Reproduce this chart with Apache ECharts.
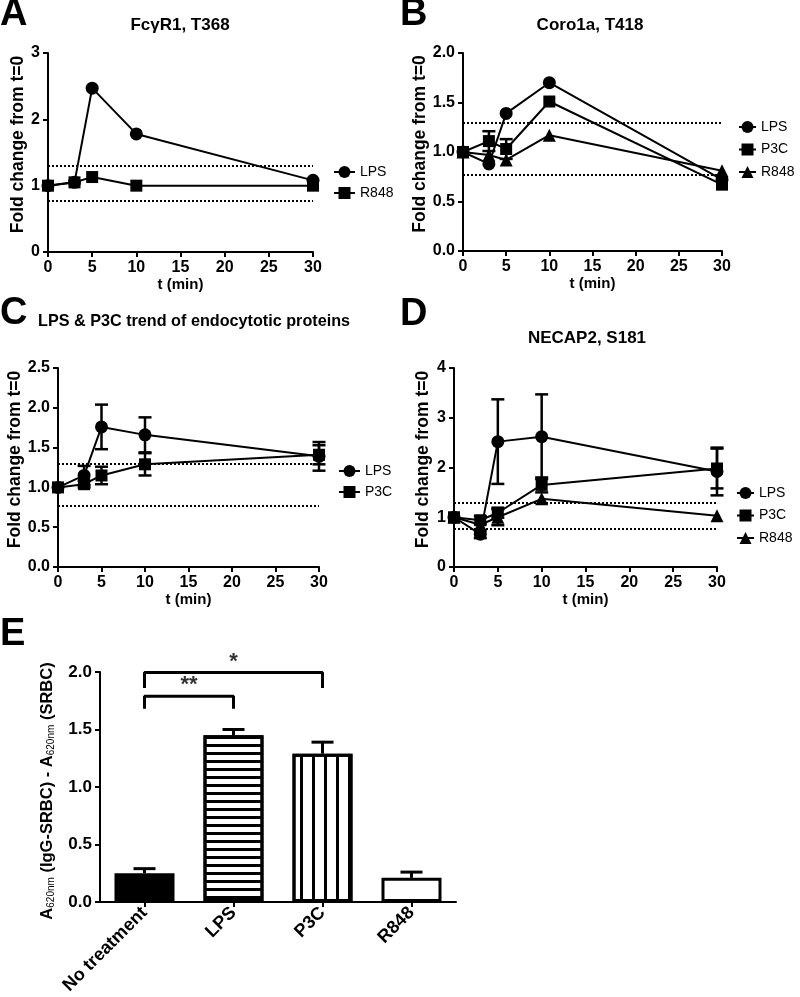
<!DOCTYPE html>
<html><head><meta charset="utf-8">
<script src="https://cdn.jsdelivr.net/npm/echarts@6/dist/echarts.min.js"></script>
<style>html,body{margin:0;padding:0;background:#fff}#c{width:800px;height:997px}</style>
</head><body><div id="c"></div>
<script>
// ---------- data ----------
const times = [0, 3, 5, 10, 30];
const thresholds = [1.3, 0.769];

// Panel A: FcγR1, T368
const aLPS  = [1.0, 1.05, 2.47, 1.78, 1.08];
const aR848 = [1.0, 1.05, 1.13, 1.0, 1.0];

// Panel B: Coro1a, T418
const bLPS     = [1.0, 0.88, 1.39, 1.70, 0.72];
const bP3C     = [1.0, 1.11, 1.03, 1.51, 0.67];
const bP3CErr  = [0, 0.10, 0.10, 0, 0];
const bR848    = [1.0, 0.97, 0.92, 1.17, 0.81];

// Panel C: LPS & P3C trend of endocytotic proteins
const cLPS    = [1.0, 1.15, 1.76, 1.66, 1.39];
const cLPSErr = [0, 0.12, 0.28, 0.22, 0.18];
const cP3C    = [1.0, 1.04, 1.15, 1.29, 1.41];
const cP3CErr = [0, 0.04, 0.11, 0.14, 0.12];

// Panel D: NECAP2, S181
const dLPS     = [1.0, 0.66, 2.52, 2.62, 1.92];
const dLPSErr  = [0, 0.08, 0.85, 0.85, 0.48];
const dP3C     = [1.0, 0.94, 1.09, 1.65, 1.98];
const dP3CErr  = [0, 0.08, 0.10, 0.15, 0.40];
const dR848    = [1.0, 0.85, 1.0, 1.37, 1.03];
const dR848Err = [0, 0, 0.16, 0, 0];

// Panel E: phagocytosis
const eCategories = ['No treatment', 'LPS', 'P3C', 'R848'];
const eMeans = [0.25, 1.45, 1.29, 0.21];
const eErr   = [0.04, 0.05, 0.10, 0.05];
const eBrackets = [
  {from: 0, to: 1, low: 1.68, high: 1.79, label: '**'},
  {from: 0, to: 2, low: 1.86, high: 1.995, label: '*'}
];

// ---------- helpers ----------
const FF = 'Liberation Sans, Arial, Helvetica, sans-serif';
const pts = ys => times.map((t, i) => [t, ys[i]]);
const errPts = (ys, es) => times.map((t, i) => [t, ys[i], es[i]]);
const symSizes = {circle: 13, rect: 12, triangle: 13};

const grids = [
  {left: 48,  top: 53,  width: 265, height: 199},
  {left: 463, top: 53,  width: 259, height: 198},
  {left: 58,  top: 368, width: 261, height: 199},
  {left: 454, top: 368, width: 263, height: 199},
  {left: 100, top: 672, width: 356, height: 230}
];

const axisLineStyle = {show: true, onZero: false, lineStyle: {color: '#000', width: 2}};
const tickStyle = {show: true, inside: false, length: 5, lineStyle: {color: '#000', width: 2}};

function xAxisFor(gi) {
  return {
    type: 'value', gridIndex: gi, min: 0, max: 30, interval: 5,
    name: 't (min)', nameLocation: 'middle', nameGap: 25,
    nameTextStyle: {fontFamily: FF, fontWeight: 'bold', fontSize: 15, color: '#000'},
    axisLine: axisLineStyle, axisTick: tickStyle, splitLine: {show: false},
    axisLabel: {fontFamily: FF, fontWeight: 'bold', fontSize: 16, color: '#000', margin: 8}
  };
}
function yAxisFor(gi, max, interval, dec, nameGap) {
  return {
    type: 'value', gridIndex: gi, min: 0, max: max, interval: interval,
    name: 'Fold change from t=0', nameLocation: 'middle', nameGap: nameGap,
    nameTextStyle: {fontFamily: FF, fontWeight: 'bold', fontSize: 17.5, color: '#000', padding: [0, 0, 0, 16]},
    axisLine: axisLineStyle, axisTick: tickStyle, splitLine: {show: false},
    axisLabel: {fontFamily: FF, fontWeight: 'bold', fontSize: 16, color: '#000', margin: 8,
      formatter: v => v.toFixed(dec)}
  };
}
function lineSeries(name, sym, ys, gi, withMark) {
  const s = {
    type: 'line', name: name, xAxisIndex: gi, yAxisIndex: gi, data: pts(ys),
    symbol: sym, symbolSize: symSizes[sym], showSymbol: true,
    lineStyle: {color: '#000', width: 2}, itemStyle: {color: '#000'},
    z: 3, animation: false
  };
  if (withMark) {
    s.markLine = {
      silent: true, symbol: ['none', 'none'], label: {show: false},
      lineStyle: {color: '#000', width: 2, type: [2, 2]},
      data: thresholds.map(v => ({yAxis: v}))
    };
  }
  return s;
}
function errSeries(ys, es, gi) {
  return {
    type: 'custom', name: 'err' + gi, xAxisIndex: gi, yAxisIndex: gi,
    data: errPts(ys, es), encode: {x: 0, y: 1}, z: 2, animation: false,
    renderItem: function (params, api) {
      const x = api.value(0), y = api.value(1), e = api.value(2);
      if (!e) return null;
      const top = api.coord([x, y + e]), bot = api.coord([x, y - e]);
      const st = {stroke: '#000', lineWidth: 2.5};
      const cw = 6.5;
      return {type: 'group', children: [
        {type: 'line', shape: {x1: top[0], y1: top[1], x2: bot[0], y2: bot[1]}, style: st},
        {type: 'line', shape: {x1: top[0] - cw, y1: top[1], x2: top[0] + cw, y2: top[1]}, style: st},
        {type: 'line', shape: {x1: bot[0] - cw, y1: bot[1], x2: bot[0] + cw, y2: bot[1]}, style: st}
      ]};
    }
  };
}
function legendFor(names, left, top, gap, w) {
  return {
    data: names, orient: 'vertical', left: left, top: top, itemGap: gap,
    itemWidth: w, itemHeight: 15, selectedMode: false, padding: 0,
    textStyle: {fontFamily: FF, fontSize: 14, color: '#000'}
  };
}
function titleFor(text, left, top, size, align) {
  const t = {text: text, left: left, top: top, padding: 0,
    textStyle: {fontFamily: FF, fontWeight: 'bold', fontSize: size, color: '#000'}};
  if (align) t.textAlign = align;
  return t;
}

// Series names: R848 in panel A uses squares, R848 in B/D uses triangles
const R848sq = 'R848';
const R848tri = 'R848 ';

const barStyles = [
  {color: '#000', borderColor: '#000', borderWidth: 3},
  {color: '#fff', borderColor: '#000', borderWidth: 3,
   decal: {symbol: 'rect', symbolSize: 1, dashArrayX: [1, 0], dashArrayY: [2.5, 4.1], color: '#000'}},
  {color: '#fff', borderColor: '#000', borderWidth: 3,
   decal: {symbol: 'rect', symbolSize: 1, dashArrayX: [3, 8.5], dashArrayY: [1, 0], color: '#000'}},
  {color: '#fff', borderColor: '#000', borderWidth: 3}
];

const series = [
  // A
  lineSeries('LPS', 'circle', aLPS, 0, true),
  lineSeries(R848sq, 'rect', aR848, 0, false),
  // B
  errSeries(bP3C, bP3CErr, 1),
  lineSeries('LPS', 'circle', bLPS, 1, true),
  lineSeries('P3C', 'rect', bP3C, 1, false),
  lineSeries(R848tri, 'triangle', bR848, 1, false),
  // C
  errSeries(cLPS, cLPSErr, 2),
  errSeries(cP3C, cP3CErr, 2),
  lineSeries('LPS', 'circle', cLPS, 2, true),
  lineSeries('P3C', 'rect', cP3C, 2, false),
  // D
  errSeries(dLPS, dLPSErr, 3),
  errSeries(dP3C, dP3CErr, 3),
  errSeries(dR848, dR848Err, 3),
  lineSeries('LPS', 'circle', dLPS, 3, true),
  lineSeries('P3C', 'rect', dP3C, 3, false),
  lineSeries(R848tri, 'triangle', dR848, 3, false),
  // E bars
  {
    type: 'bar', name: 'barsE', xAxisIndex: 4, yAxisIndex: 4, barWidth: 60, animation: false,
    data: eMeans.map((v, i) => ({value: v, itemStyle: barStyles[i]}))
  },
  {
    type: 'custom', name: 'errE', xAxisIndex: 4, yAxisIndex: 4, z: 3, animation: false,
    data: eMeans.map((v, i) => [i, v, eErr[i]]), encode: {x: 0, y: 1},
    renderItem: function (params, api) {
      const x = api.value(0), y = api.value(1), e = api.value(2);
      const base = api.coord([x, y]), top = api.coord([x, y + e]);
      const st = {stroke: '#000', lineWidth: 3};
      return {type: 'group', children: [
        {type: 'line', shape: {x1: base[0], y1: base[1], x2: top[0], y2: top[1]}, style: st},
        {type: 'line', shape: {x1: top[0] - 11, y1: top[1], x2: top[0] + 11, y2: top[1]}, style: st}
      ]};
    }
  }
];
// significance brackets on a hidden value axis aligned with the category centres
eBrackets.forEach((b, k) => {
  series.push({
    type: 'line', name: 'bracket' + k, xAxisIndex: 5, yAxisIndex: 4, symbol: 'none', animation: false,
    lineStyle: {color: '#000', width: 3},
    data: [[b.from, b.low], [b.from, b.high], [b.to, b.high], [b.to, b.low]]
  });
  series.push({
    type: 'scatter', name: 'sig' + k, xAxisIndex: 5, yAxisIndex: 4, symbolSize: 0, animation: false,
    label: {show: true, position: 'top', distance: 0, formatter: b.label,
      fontFamily: FF, fontWeight: 'bold', fontSize: 22, color: '#000'},
    data: [[(b.from + b.to) / 2, b.high]]
  });
});

const option = {
  backgroundColor: '#fff',
  animation: false,
  title: [
    titleFor('A', 0, -4, 38), titleFor('B', 400, -4, 38),
    titleFor('C', 0, 295, 38), titleFor('D', 400, 296, 38), titleFor('E', 0, 616, 38),
    titleFor('FcγR1, T368', 180, 17, 17, 'center'),
    titleFor('Coro1a, T418', 590, 17, 17, 'center'),
    titleFor('LPS & P3C trend of endocytotic proteins', 38, 314, 16.2),
    titleFor('NECAP2, S181', 587, 330, 17, 'center')
  ],
  legend: [
    legendFor(['LPS', R848sq], 333, 165, 7, 21),
    legendFor(['LPS', 'P3C', R848tri], 738, 120, 8.5, 17),
    legendFor(['LPS', 'P3C'], 338, 464, 7, 21),
    legendFor(['LPS', 'P3C', R848tri], 736, 486, 8.5, 17)
  ],
  grid: grids,
  xAxis: [
    xAxisFor(0), xAxisFor(1), xAxisFor(2), xAxisFor(3),
    {
      type: 'category', gridIndex: 4, data: eCategories,
      axisLine: axisLineStyle,
      axisTick: Object.assign({}, tickStyle, {alignWithLabel: true}),
      axisLabel: {fontFamily: FF, fontWeight: 'bold', fontSize: 18, color: '#000', rotate: 45, margin: 8, interval: 0}
    },
    {type: 'value', gridIndex: 4, min: -0.5, max: eCategories.length - 0.5, show: false}
  ],
  yAxis: [
    yAxisFor(0, 3, 1, 0, 21),
    yAxisFor(1, 2, 0.5, 1, 30),
    yAxisFor(2, 2.5, 0.5, 1, 31),
    yAxisFor(3, 4, 1, 0, 22),
    {
      type: 'value', gridIndex: 4, min: 0, max: 2, interval: 0.5,
      name: '{m|A}{s|620nm}{m| (IgG-SRBC) - A}{s|620nm}{m| (SRBC)}',
      nameLocation: 'middle', nameGap: 44,
      nameTextStyle: {
        fontFamily: FF, fontWeight: 'bold', fontSize: 16, color: '#000', padding: [0, 8, 0, 0],
        rich: {
          m: {fontFamily: FF, fontWeight: 'bold', fontSize: 16.5, lineHeight: 18, verticalAlign: 'bottom', color: '#000'},
          s: {fontFamily: FF, fontWeight: 'normal', fontSize: 10, lineHeight: 10, verticalAlign: 'bottom', color: '#000'}
        }
      },
      axisLine: axisLineStyle, axisTick: tickStyle, splitLine: {show: false},
      axisLabel: {fontFamily: FF, fontWeight: 'bold', fontSize: 17, color: '#000', margin: 8,
        formatter: v => v.toFixed(1)}
    }
  ],
  series: series
};

const chart = echarts.init(document.getElementById('c'), null, {renderer: 'canvas'});
chart.setOption(option);
</script>
</body></html>
